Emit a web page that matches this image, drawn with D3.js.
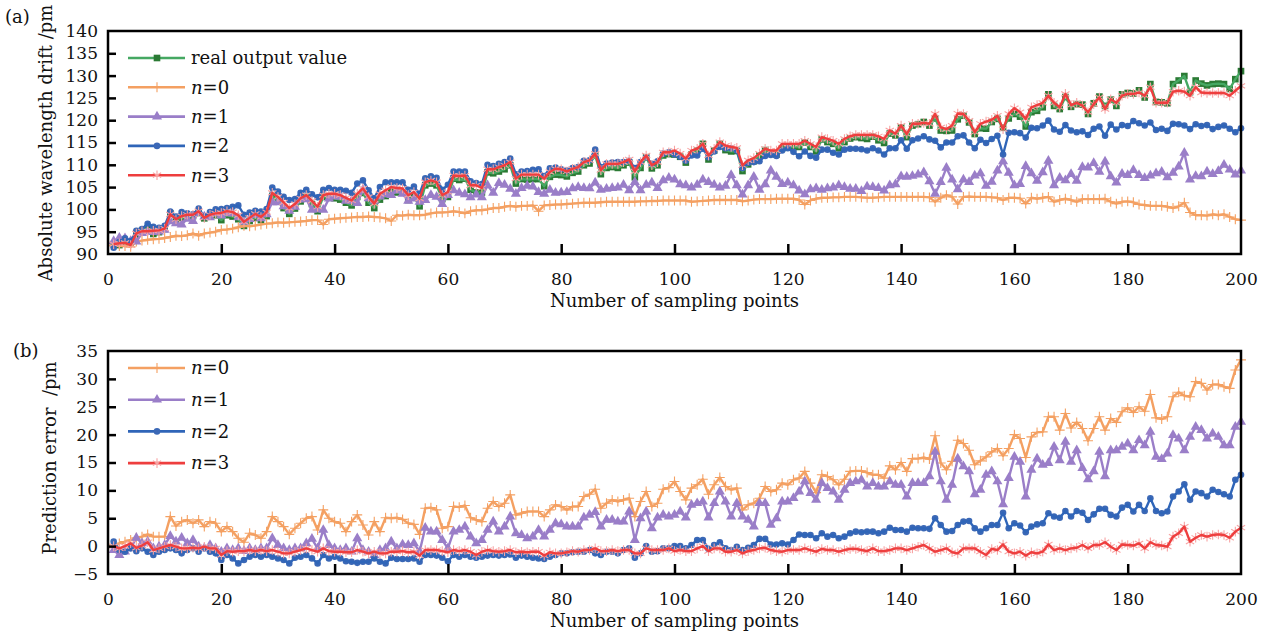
<!DOCTYPE html>
<html>
<head>
<meta charset="utf-8">
<script src="https://cdn.jsdelivr.net/npm/d3@7"></script>
<style>
  body { margin: 0; background: #fff; }
  svg text { font-family: "DejaVu Serif", serif; fill: #111; }
</style>
</head>
<body>
<svg id="chart" width="1270" height="636"></svg>
<script>
// sampling point numbers 1..200
const samples = d3.range(1, 201);

// (a) absolute wavelength drift /pm
const realOutput = [
  92.2,92.0,92.5,92.5,94.3,95.2,95.8,94.5,94.9,95.6,
  99.1,97.7,98.1,98.4,98.5,99.2,98.0,98.4,98.7,97.6,
  98.7,98.4,97.8,96.3,97.4,98.1,97.6,98.5,103.0,101.8,
  100.3,99.0,100.2,101.8,102.8,101.2,99.6,102.8,102.6,102.5,
  102.2,101.5,100.9,102.8,103.7,101.5,100.3,102.2,103.0,104.0,
  103.8,103.8,102.1,102.9,100.7,105.4,105.8,105.4,102.3,102.8,
  106.9,106.6,106.9,104.4,103.8,103.8,108.3,108.1,108.5,109.0,
  109.9,105.8,106.8,106.7,106.8,106.8,105.2,107.3,107.8,107.7,
  107.4,108.2,108.5,109.9,110.3,112.1,107.9,109.3,109.5,109.3,
  109.9,110.5,107.2,109.3,111.7,109.2,109.9,112.1,112.4,112.3,
  111.8,110.5,112.3,113.2,114.7,111.2,113.2,114.7,113.3,113.0,
  113.1,108.6,110.1,110.8,112.1,113.3,112.5,112.3,113.7,114.0,
  114.0,114.0,115.0,114.0,113.0,115.7,115.1,114.7,113.7,115.1,
  115.9,116.2,116.0,115.8,116.3,115.5,114.9,117.0,116.6,118.4,
  116.2,118.8,119.1,119.6,118.8,120.4,117.7,117.6,117.7,120.2,
  121.0,119.5,116.9,118.2,118.1,119.6,120.3,118.3,120.4,121.4,
  120.8,118.6,121.8,122.1,122.9,125.8,123.2,122.5,125.2,123.0,
  123.6,123.5,121.4,123.8,125.3,123.2,124.6,123.2,125.8,126.1,
  126.0,126.7,125.1,128.1,124.1,124.0,123.8,128.1,128.9,129.9,
  126.3,128.9,128.2,127.8,128.1,128.2,128.1,127.0,129.2,131.0
];
const predN0 = [
  92.0,91.8,91.8,91.6,92.8,93.0,93.2,93.3,93.4,93.6,
  93.8,94.1,94.0,94.2,94.6,94.1,94.6,94.8,95.0,95.4,
  95.5,95.7,96.0,96.3,96.2,96.4,96.6,96.8,96.9,97.1,
  97.0,97.1,97.2,97.3,97.4,97.6,97.6,96.6,97.8,97.9,
  98.0,98.1,98.2,98.3,98.3,98.4,98.3,98.2,98.0,97.4,
  98.7,98.6,98.8,98.7,98.7,98.8,99.1,99.3,99.3,99.4,
  99.6,99.4,99.1,99.6,99.8,99.8,100.0,100.3,100.3,100.6,
  100.8,100.6,100.8,100.8,100.9,99.6,100.9,101.0,101.1,101.1,
  101.2,101.3,101.4,101.5,101.5,101.5,101.6,101.7,101.7,101.7,
  101.7,101.7,101.7,101.8,101.8,101.9,101.9,102.0,102.0,102.0,
  102.0,102.0,101.7,101.8,101.9,102.0,102.1,102.1,102.1,102.1,
  102.1,101.8,102.0,102.2,102.3,102.3,102.3,102.4,102.4,102.4,
  102.4,102.1,101.1,102.0,102.4,102.6,102.6,102.7,102.7,102.8,
  102.8,102.8,102.7,102.6,102.6,102.7,102.8,102.8,102.8,102.8,
  102.8,102.8,102.8,102.8,102.7,101.7,102.6,103.2,102.8,101.2,
  102.8,102.9,102.8,102.8,102.8,102.7,102.6,102.1,102.6,102.6,
  102.5,101.3,102.6,102.4,102.6,102.8,101.7,102.1,102.4,102.1,
  101.7,102.3,102.3,102.3,102.3,102.4,101.7,101.3,101.7,101.8,
  101.6,101.1,101.0,100.8,100.8,100.8,100.6,100.3,100.7,101.5,
  99.3,98.7,98.7,98.6,98.9,98.7,98.9,98.3,97.8,97.6
];
const predN1 = [
  92.9,93.6,93.5,92.9,92.8,94.7,95.0,94.9,95.0,95.4,
  97.3,96.9,96.6,97.9,97.4,99.3,98.4,98.2,99.1,98.6,
  99.1,99.1,98.2,97.2,97.8,98.8,98.0,98.9,101.6,101.6,
  100.7,99.7,100.6,102.2,102.3,99.9,100.0,99.9,102.4,102.9,
  102.9,101.9,101.9,101.4,104.4,102.5,101.9,102.9,103.4,103.2,
  104.2,103.5,101.9,102.4,101.7,102.1,103.2,102.8,101.2,103.2,
  104.3,103.7,103.4,102.7,103.3,102.7,105.4,103.7,105.9,105.5,
  104.6,103.5,104.8,105.3,105.1,103.9,103.5,104.4,103.7,103.8,
  103.9,104.7,105.0,104.8,104.7,106.0,104.4,104.6,104.8,104.9,
  105.5,104.3,106.1,104.3,105.5,106.0,104.8,106.5,107.1,106.7,
  105.6,105.4,104.9,105.5,106.7,106.1,105.5,104.9,105.3,107.7,
  105.4,103.3,105.4,107.3,104.4,105.6,108.7,107.3,105.7,106.0,
  105.4,104.2,103.4,104.5,104.7,104.4,104.7,104.9,105.4,105.0,
  104.6,104.6,104.1,105.1,105.0,104.8,104.2,105.4,105.6,107.4,
  107.3,107.5,107.8,108.3,106.3,103.5,106.1,109.3,106.7,104.5,
  106.7,106.1,107.6,108.1,105.3,106.2,108.7,110.8,108.2,105.4,
  105.7,109.7,108.1,106.4,108.3,110.9,105.4,107.1,106.5,107.9,
  106.4,109.5,109.4,110.4,108.4,110.7,107.4,106.0,108.0,107.7,
  108.8,107.7,107.0,107.6,108.1,108.4,107.2,108.2,109.6,112.7,
  106.7,107.5,107.4,108.5,107.9,108.6,110.0,108.9,107.8,108.7
];
const predN2 = [
  91.4,92.7,93.5,92.9,95.2,95.6,96.8,96.1,95.9,96.3,
  99.5,98.4,99.4,99.1,98.9,100.2,98.4,99.4,100.0,100.1,
  100.3,100.6,100.9,98.8,99.3,99.7,99.5,100.1,104.9,104.0,
  102.8,102.1,102.3,103.7,104.4,103.4,102.7,104.4,104.8,104.4,
  104.4,104.2,103.7,105.8,106.5,104.3,102.5,105.0,106.1,106.1,
  106.1,106.1,104.4,105.1,103.5,107.0,107.4,107.1,104.4,105.5,
  108.5,108.5,108.5,106.3,105.9,105.7,110.0,109.7,110.2,110.6,
  111.4,107.9,108.5,108.6,108.9,109.0,107.5,109.2,109.4,109.0,
  108.7,109.3,109.5,110.9,111.0,113.4,109.5,110.3,110.5,110.6,
  110.6,110.9,109.3,110.6,111.7,110.2,110.8,112.5,112.8,112.3,
  111.8,110.9,112.1,112.1,113.6,111.7,113.0,114.0,113.7,113.7,
  113.2,109.3,110.4,110.6,110.8,112.0,112.2,112.0,113.2,113.7,
  112.9,111.9,113.0,112.0,111.6,113.4,113.4,112.7,112.3,113.4,
  113.6,113.6,113.5,113.2,113.7,113.2,112.3,113.7,113.7,115.5,
  113.6,115.5,115.9,116.4,115.7,115.4,113.9,115.0,115.0,116.4,
  116.6,115.0,113.7,115.6,114.9,115.8,116.5,112.3,117.2,117.3,
  117.1,116.1,118.3,118.2,118.8,119.9,117.9,117.4,118.9,117.7,
  117.3,117.5,116.7,118.1,118.6,116.5,119.0,117.9,118.9,118.7,
  119.8,119.3,118.8,119.5,117.8,118.1,117.6,119.2,119.1,118.8,
  118.0,119.1,118.7,118.9,118.0,118.5,118.8,118.1,117.3,118.2
];
const predN3 = [
  92.2,92.4,92.5,92.0,94.6,95.1,95.1,95.2,95.3,95.7,
  98.9,97.8,98.5,98.8,98.8,99.6,98.1,98.8,99.1,99.2,
  99.6,99.4,98.7,97.2,98.1,99.0,98.3,99.4,103.7,102.8,
  101.6,100.3,101.2,102.5,103.2,101.9,100.6,103.2,103.5,103.5,
  103.2,102.6,102.0,103.5,104.7,102.8,101.3,103.5,104.3,105.0,
  104.8,104.7,103.2,103.9,102.4,106.1,106.5,106.1,103.2,103.9,
  107.6,107.5,107.6,105.4,105.4,104.8,109.0,109.0,109.5,109.9,
  110.6,106.9,107.8,107.8,107.8,107.8,106.9,108.4,109.1,109.0,
  108.5,109.1,109.5,110.6,111.0,112.5,108.8,110.2,110.2,110.2,
  110.6,111.2,108.5,110.6,112.1,109.9,110.6,112.8,112.8,113.2,
  112.5,111.4,113.2,113.6,114.7,112.1,113.6,115.1,114.3,114.0,
  113.8,109.9,111.0,111.5,112.5,113.6,113.2,113.2,114.7,114.7,
  114.7,114.7,115.4,114.7,114.0,116.2,115.8,115.4,114.7,115.8,
  116.4,116.7,116.7,116.7,116.7,116.4,115.8,117.7,117.0,118.8,
  116.9,119.2,119.2,119.4,119.2,121.4,118.4,118.0,118.8,121.5,
  121.4,119.9,117.3,119.2,119.7,120.1,121.0,118.0,121.4,122.7,
  121.8,120.3,122.9,123.4,123.9,125.5,123.9,122.9,125.9,123.4,
  123.9,123.3,121.8,123.6,125.1,122.5,124.7,123.9,125.5,125.9,
  125.9,126.2,125.5,127.4,123.9,123.9,123.9,126.4,126.6,126.4,
  125.5,127.4,126.2,126.1,126.1,126.1,126.1,125.5,126.6,127.7
];

// (b) prediction error /pm
const errN0 = [
  0.2,0.5,0.8,1.1,1.5,1.7,2.1,1.7,1.7,1.7,
  5.3,3.6,4.4,4.7,4.1,4.7,3.5,4.4,4.1,2.6,
  3.5,2.6,1.4,0.7,2.3,2.0,1.4,2.6,5.3,4.4,
  3.5,2.1,3.2,4.1,5.0,5.3,2.9,6.5,5.0,4.4,
  4.1,2.6,4.4,5.6,3.8,2.0,4.4,2.6,5.1,5.0,
  5.1,4.8,4.1,3.9,2.1,6.8,6.9,6.5,3.2,3.5,
  7.1,7.0,7.3,5.1,4.7,4.4,6.8,8.0,7.1,7.7,
  9.2,5.6,5.9,6.2,6.2,6.2,5.3,6.5,7.4,7.1,
  6.5,7.1,7.1,8.9,9.3,10.2,6.8,7.7,8.3,8.0,
  8.3,8.6,5.3,8.0,9.8,7.1,7.7,10.2,10.5,11.6,
  9.8,8.3,10.4,11.0,12.0,9.3,11.0,12.3,10.7,10.1,
  10.4,6.5,7.4,7.7,8.6,10.7,9.8,10.1,11.3,11.0,
  11.9,12.2,13.4,11.3,9.6,12.8,12.5,11.9,11.0,12.0,
  13.4,13.5,13.5,13.2,12.8,12.8,12.2,14.4,13.7,15.0,
  13.4,15.7,15.7,15.9,15.6,19.8,14.9,13.7,15.2,19.0,
  18.4,17.2,14.6,15.3,16.0,16.9,17.5,16.2,17.5,20.0,
  19.3,15.9,19.6,20.4,20.5,23.2,23.2,20.8,23.8,21.2,
  22.2,21.1,18.9,21.1,23.2,20.8,22.9,22.2,24.1,24.8,
  24.0,25.0,24.2,27.2,23.0,22.8,23.2,26.8,27.6,27.0,
  26.8,29.5,29.2,28.0,29.0,29.0,28.6,28.3,31.6,33.4
];
const errN1 = [
  -0.7,-1.6,-1.0,-0.4,1.5,0.5,0.8,-0.4,-0.1,0.2,
  1.8,0.8,1.5,0.5,1.1,-0.1,-0.4,0.2,-0.4,-1.0,
  -0.4,-0.7,-0.4,-0.9,-0.4,-0.7,-0.4,-0.4,1.4,0.2,
  -0.4,-0.7,-0.4,-0.4,0.5,1.3,-0.4,2.9,0.2,-0.4,
  -0.7,-0.4,-1.0,1.4,-0.7,-1.0,-1.6,-0.7,-0.4,0.8,
  -0.4,0.3,0.2,0.5,-1.0,3.3,2.6,2.6,1.1,-0.4,
  2.6,2.9,3.5,1.7,0.5,1.1,2.9,4.4,2.6,3.5,
  5.3,2.3,2.0,1.4,1.7,2.9,1.7,2.9,4.1,3.9,
  3.5,3.5,3.5,5.1,5.6,6.1,3.5,4.7,4.7,4.4,
  4.4,6.2,1.1,5.0,6.2,3.2,5.1,5.6,5.3,5.6,
  6.2,5.1,7.4,7.7,8.0,5.1,7.7,9.8,8.0,5.3,
  7.7,5.3,4.7,3.5,7.7,7.7,3.8,5.0,8.0,8.0,
  8.6,9.8,11.6,9.5,8.3,11.3,10.4,9.8,8.3,10.1,
  11.3,11.6,11.9,10.7,11.3,10.7,10.7,11.6,11.0,11.0,
  8.9,11.3,11.3,11.3,12.5,16.9,11.6,8.3,11.0,15.7,
  14.3,13.4,9.3,10.1,12.8,13.4,11.6,7.5,12.2,16.0,
  15.1,8.9,13.7,15.7,14.6,14.9,17.8,15.4,18.7,15.1,
  17.2,14.0,12.0,13.4,16.9,12.5,17.2,17.2,17.8,18.4,
  17.2,19.0,18.1,20.5,16.0,15.6,16.6,19.9,19.3,17.2,
  19.6,21.4,20.8,19.3,20.2,19.6,18.1,18.1,21.4,22.3
];
const errN2 = [
  0.8,-0.7,-1.0,-0.4,-0.9,-0.4,-1.0,-1.6,-1.0,-0.7,
  -0.4,-0.7,-1.3,-0.7,-0.4,-1.0,-0.4,-1.0,-1.3,-2.5,
  -1.6,-2.2,-3.1,-2.5,-1.9,-1.6,-1.9,-1.6,-1.9,-2.2,
  -2.5,-3.1,-2.1,-1.9,-1.6,-2.2,-3.1,-1.6,-2.2,-1.9,
  -2.2,-2.7,-2.8,-3.0,-2.8,-2.8,-2.2,-2.8,-3.1,-2.1,
  -2.3,-2.3,-2.3,-2.2,-2.8,-1.6,-1.6,-1.7,-2.1,-2.7,
  -1.6,-1.9,-1.6,-1.9,-2.1,-1.9,-1.7,-1.6,-1.7,-1.6,
  -1.5,-2.1,-1.7,-1.9,-2.1,-2.2,-2.3,-1.9,-1.6,-1.3,
  -1.3,-1.1,-1.0,-1.0,-0.7,-1.3,-1.6,-1.0,-1.0,-1.3,
  -0.7,-0.4,-2.1,-1.3,0.0,-1.0,-0.9,-0.4,-0.4,0.0,
  0.0,-0.4,0.2,1.1,1.1,-0.5,0.2,0.7,-0.4,-0.7,
  -0.1,-0.7,-0.3,0.2,1.3,1.3,0.3,0.3,0.5,0.3,
  1.1,2.1,2.0,2.0,1.4,2.3,1.7,2.0,1.4,1.7,
  2.3,2.6,2.5,2.6,2.6,2.3,2.6,3.3,2.9,2.9,
  2.6,3.3,3.2,3.2,3.1,5.0,3.8,2.6,2.7,3.8,
  4.4,4.5,3.2,2.6,3.2,3.8,3.8,6.0,3.2,4.1,
  3.7,2.5,3.5,3.9,4.1,5.9,5.3,5.1,6.3,5.3,
  6.3,6.0,4.7,5.7,6.7,6.7,5.6,5.3,6.9,7.4,
  6.2,7.4,6.3,8.6,6.3,5.9,6.2,8.9,9.8,11.1,
  8.3,9.8,9.5,8.9,10.1,9.7,9.3,8.9,11.9,12.8
];
const errN3 = [
  0.0,-0.4,0.0,0.5,-0.3,0.1,0.7,-0.7,-0.4,-0.1,
  0.2,-0.1,-0.4,-0.4,-0.3,-0.4,-0.1,-0.4,-0.4,-1.6,
  -0.9,-1.0,-0.9,-0.9,-0.7,-0.9,-0.7,-0.9,-0.7,-1.0,
  -1.3,-1.3,-1.0,-0.7,-0.4,-0.7,-1.0,-0.4,-0.9,-1.0,
  -1.0,-1.1,-1.1,-0.7,-1.0,-1.3,-1.0,-1.3,-1.3,-1.0,
  -1.0,-0.9,-1.1,-1.0,-1.7,-0.7,-0.7,-0.7,-0.9,-1.1,
  -0.7,-0.9,-0.7,-1.0,-1.6,-1.0,-0.7,-0.9,-1.0,-0.9,
  -0.7,-1.1,-1.0,-1.1,-1.0,-1.0,-1.7,-1.1,-1.3,-1.3,
  -1.1,-0.9,-1.0,-0.7,-0.7,-0.4,-0.9,-0.9,-0.7,-0.9,
  -0.7,-0.7,-1.3,-1.3,-0.4,-0.7,-0.7,-0.7,-0.4,-0.9,
  -0.7,-0.9,-0.9,-0.4,0.0,-0.9,-0.4,-0.4,-1.0,-1.0,
  -0.7,-1.3,-0.9,-0.7,-0.4,-0.3,-0.7,-0.9,-1.0,-0.7,
  -0.7,-0.7,-0.4,-0.7,-1.0,-0.5,-0.7,-0.7,-1.0,-0.7,
  -0.5,-0.5,-0.7,-0.9,-0.4,-0.9,-0.9,-0.7,-0.4,-0.4,
  -0.7,-0.4,-0.1,0.2,-0.4,-1.0,-0.7,-0.4,-1.1,-1.3,
  -0.4,-0.4,-0.4,-1.0,-1.6,-0.5,-0.7,0.3,-1.0,-1.3,
  -1.0,-1.7,-1.1,-1.3,-1.0,0.3,-0.7,-0.4,-0.7,-0.4,
  -0.3,0.2,-0.4,0.2,0.2,0.7,-0.1,-0.7,0.3,0.2,
  0.1,0.5,-0.4,0.7,0.2,0.1,-0.1,1.7,2.3,3.5,
  0.8,1.5,2.0,1.7,2.0,2.1,2.0,1.5,2.6,3.3
];

const xTicks = [0, 20, 40, 60, 80, 100, 120, 140, 160, 180, 200];
const yTicksA = [90, 95, 100, 105, 110, 115, 120, 125, 130, 135, 140];
const yTicksB = [-5, 0, 5, 10, 15, 20, 25, 30, 35];

// series styles
const styles = {
  real: { label: 'real output value', line: '#45a862', mark: '#2b7a34', symbol: d3.symbolSquare, size: 44, filled: true },
  n0: { n: '0', line: '#f4a062', mark: '#f4a062', symbol: d3.symbolPlus, size: 34, filled: false },
  n1: { n: '1', line: '#9a7ec8', mark: '#9a7ec8', symbol: d3.symbolTriangle, size: 44, filled: true },
  n2: { n: '2', line: '#2f65b8', mark: '#3b68b6', symbol: d3.symbolCircle, size: 34, filled: true },
  n3: { n: '3', line: '#ee3e3e', mark: '#f7a3a3', symbol: d3.symbolAsterisk, size: 64, filled: false }
};

const svg = d3.select('#chart');
const left = 108, right = 1241;

const x = d3.scaleLinear().domain([0, 200]).range([left, right]);

function drawPanel(p) {
  const y = d3.scaleLinear().domain(p.domain).range([p.bottom, p.top]);
  const g = svg.append('g');

  // series: markers under each line, in legend order
  p.series.forEach(s => {
    const st = styles[s.key];
    const pts = samples.map((d, i) => [d, s.values[i]]);
    const line = d3.line().x(d => x(d[0])).y(d => y(d[1]));
    g.append('g').selectAll('path').data(pts).join('path')
      .attr('transform', d => `translate(${x(d[0])},${y(d[1])})`)
      .attr('d', d3.symbol(st.symbol, st.size))
      .attr('fill', st.filled ? st.mark : 'none')
      .attr('stroke', st.filled ? 'none' : st.mark)
      .attr('stroke-width', 1.1);
    g.append('path').datum(pts)
      .attr('d', line).attr('fill', 'none')
      .attr('stroke', st.line).attr('stroke-width', 2.4)
      .attr('stroke-linejoin', 'round');
  });

  // axes
  const xAxis = d3.axisBottom(x).tickValues(xTicks)
    .tickSizeInner(-10).tickSizeOuter(0).tickPadding(19);
  g.append('g').attr('transform', `translate(0,${p.bottom})`).call(xAxis)
    .call(a => a.select('.domain').remove())
    .call(a => a.selectAll('.tick').filter(d => d === 0 || d === 200).select('line').remove())
    .call(a => a.selectAll('line').attr('stroke', '#000').attr('stroke-width', 2.5))
    .attr('font-family', null).attr('font-size', 17);

  const yAxis = d3.axisLeft(y).tickValues(p.yTicks)
    .tickSizeInner(-8).tickSizeOuter(0).tickPadding(10);
  g.append('g').attr('transform', `translate(${left},0)`).call(yAxis)
    .call(a => a.select('.domain').remove())
    .call(a => a.selectAll('.tick').filter(d => d === p.domain[0] || d === p.domain[1]).select('line').remove())
    .call(a => a.selectAll('line').attr('stroke', '#000').attr('stroke-width', 2.5))
    .attr('font-family', null).attr('font-size', 17);

  // frame
  g.append('rect')
    .attr('x', left).attr('y', p.top)
    .attr('width', right - left).attr('height', p.bottom - p.top)
    .attr('fill', 'none').attr('stroke', '#000').attr('stroke-width', 2.5);

  // titles
  g.append('text')
    .attr('x', (left + right) / 2).attr('y', p.bottom + 53)
    .attr('text-anchor', 'middle').attr('font-size', 18)
    .text('Number of sampling points');
  g.append('text')
    .attr('transform', `translate(${p.yTitleX},${p.yTitleY}) rotate(-90)`)
    .attr('text-anchor', 'middle').attr('font-size', 18)
    .attr('dy', '0.35em')
    .attr('xml:space', 'preserve')
    .text(p.yTitle);
  g.append('text')
    .attr('x', p.tagX).attr('y', p.tagY)
    .attr('font-size', 18)
    .text(p.tag);

  // legend
  const lg = g.append('g');
  p.series.forEach((s, k) => {
    const st = styles[s.key];
    const ly = p.legendY + k * p.legendStep;
    lg.append('line')
      .attr('x1', 128).attr('x2', 185).attr('y1', ly).attr('y2', ly)
      .attr('stroke', st.line).attr('stroke-width', 2.6);
    lg.append('path')
      .attr('transform', `translate(157,${ly})`)
      .attr('d', d3.symbol(st.symbol, st.size))
      .attr('fill', st.filled ? st.mark : 'none')
      .attr('stroke', st.filled ? 'none' : st.mark)
      .attr('stroke-width', 1.1);
    const t = lg.append('text')
      .attr('x', 191).attr('y', ly).attr('dy', '0.35em')
      .attr('font-size', 18);
    if (st.label) {
      t.text(st.label);
    } else {
      t.append('tspan').attr('font-style', 'italic').text('n');
      t.append('tspan').text('=' + st.n);
    }
  });
}

drawPanel({
  top: 31, bottom: 254, domain: [90, 140], yTicks: yTicksA,
  series: [
    { key: 'real', values: realOutput },
    { key: 'n0', values: predN0 },
    { key: 'n1', values: predN1 },
    { key: 'n2', values: predN2 },
    { key: 'n3', values: predN3 }
  ],
  yTitle: 'Absolute wavelength drift /pm', yTitleX: 46, yTitleY: 143,
  tag: '(a)', tagX: 5, tagY: 23,
  legendY: 58, legendStep: 29.3
});

drawPanel({
  top: 351, bottom: 574, domain: [-5, 35], yTicks: yTicksB,
  series: [
    { key: 'n0', values: errN0 },
    { key: 'n1', values: errN1 },
    { key: 'n2', values: errN2 },
    { key: 'n3', values: errN3 }
  ],
  yTitle: 'Prediction error  /pm', yTitleX: 50, yTitleY: 458,
  tag: '(b)', tagX: 13, tagY: 357,
  legendY: 368, legendStep: 31.7
});
</script>
</body>
</html>
